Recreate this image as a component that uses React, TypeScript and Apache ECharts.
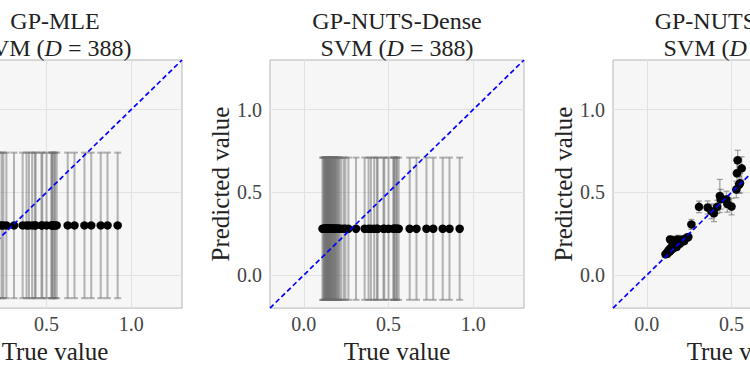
import React, { useEffect, useRef } from "react";
import * as echarts from "echarts";

// Shared true values (x) used by GP-MLE and GP-NUTS-Dense panels
const trueValues = [
  0.110, 0.115, 0.120, 0.122, 0.125, 0.128, 0.130, 0.133, 0.135, 0.137,
  0.140, 0.142, 0.145, 0.148, 0.150, 0.152, 0.155, 0.158, 0.160, 0.163,
  0.166, 0.170, 0.173, 0.176, 0.180, 0.183, 0.186, 0.190, 0.195, 0.200,
  0.205, 0.210, 0.220, 0.235, 0.245, 0.263, 0.308, 0.359, 0.382, 0.396,
  0.415, 0.431, 0.436, 0.470, 0.475, 0.500, 0.528, 0.532, 0.536, 0.545,
  0.550, 0.560, 0.625, 0.665, 0.724, 0.764, 0.820, 0.860, 0.920,
];

// GP-MLE: constant prediction
const mleMean = 0.30;
const mleErr = 0.44;
// GP-NUTS-Dense: constant prediction
const denseMean = 0.28;
const denseErr = 0.43;

// GP-NUTS-SAAS (visible part)
const saasTrue = [
  0.110, 0.115, 0.120, 0.122, 0.125, 0.128, 0.130, 0.133, 0.135, 0.137,
  0.140, 0.142, 0.145, 0.148, 0.150, 0.152, 0.155, 0.158, 0.160, 0.163,
  0.166, 0.170, 0.173, 0.176, 0.180, 0.183, 0.186, 0.190, 0.195, 0.200,
  0.205, 0.210, 0.220, 0.235, 0.245, 0.263, 0.308, 0.359, 0.382, 0.396,
  0.415, 0.431, 0.436, 0.470, 0.475, 0.500, 0.528, 0.532, 0.536, 0.545,
  0.550, 0.560,
];
const saasPred = [
  0.125, 0.130, 0.128, 0.140, 0.135, 0.145, 0.150, 0.140, 0.155, 0.215,
  0.160, 0.150, 0.165, 0.170, 0.158, 0.175, 0.210, 0.180, 0.165, 0.185,
  0.175, 0.190, 0.200, 0.170, 0.195, 0.215, 0.185, 0.200, 0.190, 0.210,
  0.200, 0.215, 0.205, 0.225, 0.230, 0.306, 0.412, 0.408, 0.385, 0.373,
  0.412, 0.478, 0.458, 0.457, 0.430, 0.414, 0.517, 0.615, 0.694, 0.546,
  0.555, 0.645,
];
const saasErr = [
  0.015, 0.015, 0.020, 0.020, 0.015, 0.020, 0.020, 0.015, 0.020, 0.020,
  0.020, 0.020, 0.020, 0.020, 0.020, 0.020, 0.025, 0.020, 0.020, 0.020,
  0.020, 0.020, 0.025, 0.020, 0.020, 0.025, 0.020, 0.020, 0.020, 0.025,
  0.020, 0.020, 0.020, 0.020, 0.020, 0.030, 0.035, 0.040, 0.045, 0.050,
  0.040, 0.100, 0.060, 0.050, 0.050, 0.050, 0.050, 0.060, 0.060, 0.050,
  0.060, 0.070,
];

const tickValues = [0, 0.5, 1.0];
const titles = ["GP-MLE", "GP-NUTS-Dense", "GP-NUTS-SAAS"];
const subtitle = ["SVM (", "D", " = 388)"];
const xName = "True value";
const yName = "Predicted value";

const FONT = "'Liberation Serif', 'DejaVu Serif', serif";

export default function App() {
  const ref = useRef<HTMLDivElement>(null);
  useEffect(() => {
    if (!ref.current) return;
    const chart = echarts.init(ref.current, undefined, { renderer: "svg" });

    const gridLefts = [128, 470, 813];
    const W = 254;
    const H = 252;
    const TOP = 60;

    const panels = [
      { x: trueValues, y: trueValues.map(() => mleMean), e: trueValues.map(() => mleErr), capHalf: 3.5, ew: 2, ec: "rgba(110,110,110,0.5)" },
      { x: trueValues, y: trueValues.map(() => denseMean), e: trueValues.map(() => denseErr), capHalf: 3.5, ew: 2, ec: "rgba(110,110,110,0.5)" },
      { x: saasTrue, y: saasPred, e: saasErr, capHalf: 3, ew: 1.3, ec: "rgba(110,110,110,0.6)" },
    ];

    const grid = gridLefts.map((l) => ({
      left: l, top: TOP, width: W, height: H,
      show: true, backgroundColor: "#f6f6f6", borderColor: "#b5b5b5", borderWidth: 1,
      containLabel: false,
    }));

    const axisCommon = (i: number, isX: boolean) => ({
      type: "value", gridIndex: i, min: -0.2, max: 1.3,
      axisLine: { show: false },
      axisTick: { show: false, customValues: tickValues },
      axisLabel: {
        customValues: tickValues,
        formatter: (v: number) => v.toFixed(1),
        fontFamily: FONT, fontSize: 20, color: "#444",
        margin: isX ? 6 : 8,
      },
      splitLine: { show: true, lineStyle: { color: "#e2e2e2", width: 1 } },
      name: isX ? xName : yName,
      nameLocation: "middle",
      nameGap: isX ? 25 : 36,
      nameTextStyle: { fontFamily: FONT, fontSize: 25, color: "#222" },
    });

    const series: any[] = [];
    panels.forEach((p, i) => {
      series.push({
        type: "custom", xAxisIndex: i, yAxisIndex: i,
        data: p.x.map((x, k) => [x, p.y[k], p.e[k]]),
        encode: { x: 0, y: 1 },
        z: 2,
        renderItem: (params: any, api: any) => {
          const x = api.value(0), y = api.value(1), e = api.value(2);
          const t = api.coord([x, y + e]);
          const b = api.coord([x, y - e]);
          const style = { stroke: p.ec, lineWidth: p.ew, fill: "none" };
          const hw = p.capHalf;
          return {
            type: "group",
            children: [
              { type: "line", shape: { x1: t[0], y1: t[1], x2: b[0], y2: b[1] }, style },
              { type: "line", shape: { x1: t[0] - hw, y1: t[1], x2: t[0] + hw, y2: t[1] }, style },
              { type: "line", shape: { x1: b[0] - hw, y1: b[1], x2: b[0] + hw, y2: b[1] }, style },
            ],
          };
        },
      });
      series.push({
        type: "scatter", xAxisIndex: i, yAxisIndex: i, z: 3,
        symbol: "circle", symbolSize: 8.5,
        itemStyle: { color: "#000", opacity: 1 },
        data: p.x.map((x, k) => [x, p.y[k]]),
      });
      series.push({
        type: "line", xAxisIndex: i, yAxisIndex: i, z: 4,
        showSymbol: false, symbol: "none",
        lineStyle: { color: "#0000ff", width: 1.7, type: [5, 3] },
        data: [[-0.2, -0.2], [1.3, 1.3]],
      });
    });

    const title = titles.map((t, i) => ({
      text: `${t}\n{n|${subtitle[0]}}{i|${subtitle[1]}}{n|${subtitle[2]}}`,
      left: gridLefts[i] + W / 2,
      top: 7,
      textAlign: "center",
      padding: 0,
      textStyle: {
        fontFamily: FONT, fontSize: 24, fontWeight: "normal", color: "#222", lineHeight: 27,
        rich: {
          n: { fontFamily: FONT, fontSize: 24, color: "#222", lineHeight: 27 },
          i: { fontFamily: FONT, fontSize: 24, color: "#222", lineHeight: 27, fontStyle: "italic" },
        },
      },
    }));

    chart.setOption({
      animation: false,
      title,
      grid,
      xAxis: [0, 1, 2].map((i) => axisCommon(i, true)),
      yAxis: [0, 1, 2].map((i) => axisCommon(i, false)),
      series,
    });
    return () => chart.dispose();
  }, []);

  return (
    <div style={{ position: "absolute", left: 0, top: 0, width: 750, height: 369, overflow: "hidden", background: "#fff" }}>
      <div ref={ref} style={{ position: "absolute", left: -200, top: 0, width: 1150, height: 369 }} />
    </div>
  );
}
